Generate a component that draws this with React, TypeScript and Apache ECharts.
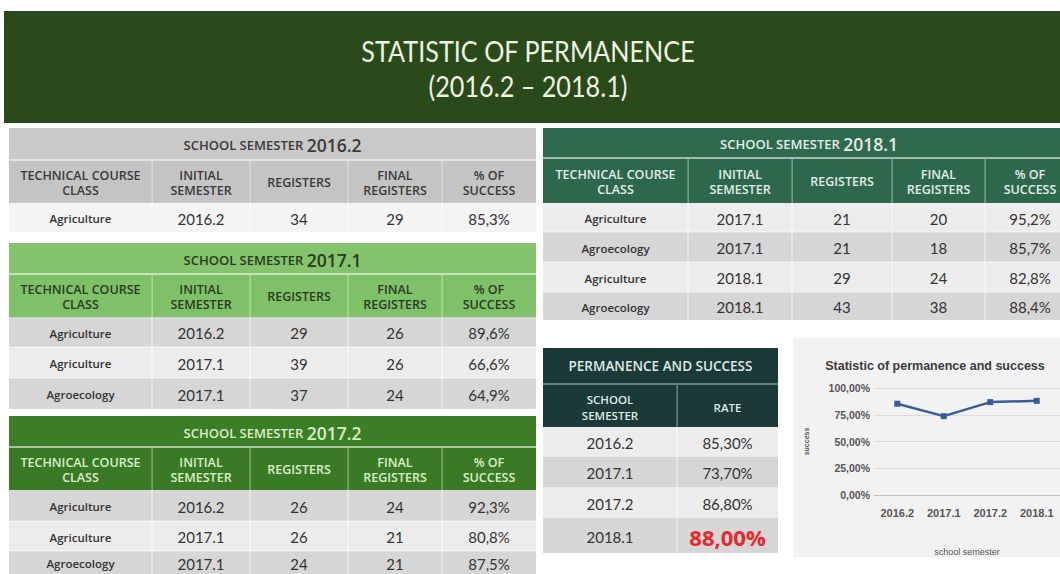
import React, { useEffect, useRef } from "react";
import * as echarts from "echarts";

// ---------- DATA ----------
const pageTitle = "STATISTIC OF PERMANENCE";
const pageSubtitle = "(2016.2 – 2018.1)";
const columnHeaders = ["TECHNICAL COURSE\nCLASS", "INITIAL\nSEMESTER", "REGISTERS", "FINAL\nREGISTERS", "% OF\nSUCCESS"];

const t20162Courses = ["Agriculture"];
const t20162Initial = ["2016.2"];
const t20162Registers = [34];
const t20162Final = [29];
const t20162Success = ["85,3%"];

const t20171Courses = ["Agriculture", "Agriculture", "Agroecology"];
const t20171Initial = ["2016.2", "2017.1", "2017.1"];
const t20171Registers = [29, 39, 37];
const t20171Final = [26, 26, 24];
const t20171Success = ["89,6%", "66,6%", "64,9%"];

const t20172Courses = ["Agriculture", "Agriculture", "Agroecology"];
const t20172Initial = ["2016.2", "2017.1", "2017.1"];
const t20172Registers = [26, 26, 24];
const t20172Final = [24, 21, 21];
const t20172Success = ["92,3%", "80,8%", "87,5%"];

const t20181Courses = ["Agriculture", "Agroecology", "Agriculture", "Agroecology"];
const t20181Initial = ["2017.1", "2017.1", "2018.1", "2018.1"];
const t20181Registers = [21, 21, 29, 43];
const t20181Final = [20, 18, 24, 38];
const t20181Success = ["95,2%", "85,7%", "82,8%", "88,4%"];

const summaryTitle = "PERMANENCE AND SUCCESS";
const summaryHeaders = ["SCHOOL\nSEMESTER", "RATE"];
const summarySemesters = ["2016.2", "2017.1", "2017.2", "2018.1"];
const summaryRates = [85.3, 73.7, 86.8, 88.0];

const chartTitle = "Statistic of permanence and success";
const chartYName = "success";
const chartXName = "school semester";
const chartYTicks = [0, 25, 50, 75, 100];

// ---------- HELPERS ----------
const FONT = 'Lato, "Open Sans", sans-serif';
const OPEN = '"Open Sans", Lato, sans-serif';
const ARIAL = '"Liberation Sans", Arial, sans-serif';

function zipRows(a: string[], b: string[], c: number[], d: number[], e: string[]) {
  return a.map((v, i) => [v, b[i], String(c[i]), String(d[i]), e[i]]);
}

type TableCfg = {
  cols: number[];
  titleTop: number;
  titleBottom: number;
  headerBottom: number;
  rowEdges: number[];
  rowFillBottom?: number;
  titleBg: string;
  headerBg: string;
  headText: string;
  rowFills: string[];
  semester: string;
  rows: string[][];
};

function tableGraphics(cfg: TableCfg): any[] {
  const els: any[] = [];
  const { cols } = cfg;
  const x0 = cols[0];
  const x1 = cols[cols.length - 1];
  const w = x1 - x0;
  els.push({ type: "rect", shape: { x: x0, y: cfg.titleTop, width: w, height: cfg.titleBottom - cfg.titleTop }, style: { fill: cfg.titleBg } });
  els.push({ type: "rect", shape: { x: x0, y: cfg.titleBottom, width: w, height: cfg.headerBottom - cfg.titleBottom }, style: { fill: cfg.headerBg } });
  els.push({ type: "rect", shape: { x: x0, y: cfg.titleBottom - 1, width: w, height: 2 }, style: { fill: "rgba(255,255,255,0.55)" } });
  // title
  els.push({
    type: "text",
    x: (x0 + x1) / 2,
    y: (cfg.titleTop + cfg.titleBottom) / 2 + 1,
    style: {
      text: "{a|SCHOOL SEMESTER }{b|" + cfg.semester + "}",
      align: "center",
      verticalAlign: "middle",
      rich: {
        a: { fill: cfg.headText, font: "600 13px " + OPEN },
        b: { fill: cfg.headText, font: "600 17.5px " + OPEN },
      },
    },
  });
  // headers
  for (let c = 0; c < cols.length - 1; c++) {
    if (c > 0) {
      els.push({ type: "rect", shape: { x: cols[c] - 0.5, y: cfg.titleBottom + 1, width: 1.2, height: cfg.headerBottom - cfg.titleBottom - 1 }, style: { fill: "rgba(255,255,255,0.45)" } });
    }
    els.push({
      type: "text",
      x: (cols[c] + cols[c + 1]) / 2,
      y: (cfg.titleBottom + cfg.headerBottom) / 2 + 1,
      style: { text: columnHeaders[c], align: "center", verticalAlign: "middle", fill: cfg.headText, font: "600 12.5px " + OPEN, lineHeight: 15 },
    });
  }
  // rows
  cfg.rows.forEach((row, r) => {
    const yA = cfg.rowEdges[r];
    const yB = cfg.rowEdges[r + 1];
    const isLast = r === cfg.rows.length - 1;
    const fillB = isLast && cfg.rowFillBottom ? cfg.rowFillBottom : yB;
    els.push({ type: "rect", shape: { x: x0, y: yA, width: w, height: fillB - yA }, style: { fill: cfg.rowFills[r % cfg.rowFills.length] } });
    for (let c = 0; c < row.length; c++) {
      if (c > 0) {
        els.push({ type: "rect", shape: { x: cols[c] - 0.5, y: yA, width: 1, height: fillB - yA }, style: { fill: "rgba(255,255,255,0.7)" } });
      }
      els.push({
        type: "text",
        x: (cols[c] + cols[c + 1]) / 2,
        y: (yA + yB) / 2 + 1,
        style: {
          text: row[c],
          align: "center",
          verticalAlign: "middle",
          fill: "#333",
          font: c === 0 ? "600 11.5px " + OPEN : "400 15px " + FONT,
        },
      });
    }
    if (r > 0) {
      els.push({ type: "rect", shape: { x: x0, y: yA - 0.5, width: w, height: 1 }, style: { fill: "rgba(255,255,255,0.6)" } });
    }
  });
  return els;
}

function fmtPct(v: number) {
  return v.toFixed(2).replace(".", ",") + "%";
}

export default function App() {
  const ref = useRef<HTMLDivElement>(null);
  useEffect(() => {
    if (!ref.current) return;
    const chart = echarts.init(ref.current, null, { renderer: "svg" });

    const leftCols = [9, 152, 250, 348, 442, 536];
    const rightCols = [543, 688, 792, 892, 985, 1075];

    const graphics: any[] = [];
    // banner
    graphics.push({ type: "rect", shape: { x: 4, y: 11, width: 1056, height: 112 }, style: { fill: "#2a4a1b" } });
    graphics.push({ type: "text", x: 528, y: 51, scaleX: 0.9, style: { text: pageTitle, align: "center", verticalAlign: "middle", fill: "#eef3e2", font: "400 28px " + FONT } });
    graphics.push({ type: "text", x: 528, y: 86, scaleX: 0.9, style: { text: pageSubtitle, align: "center", verticalAlign: "middle", fill: "#eef3e2", font: "400 28px " + FONT } });

    graphics.push(...tableGraphics({
      cols: leftCols, titleTop: 128, titleBottom: 160, headerBottom: 203, rowEdges: [203, 232],
      titleBg: "#c9c9c9", headerBg: "#c4c4c4", headText: "#3a3a3a", rowFills: ["#f4f4f4"], semester: "2016.2",
      rows: zipRows(t20162Courses, t20162Initial, t20162Registers, t20162Final, t20162Success),
    }));
    graphics.push(...tableGraphics({
      cols: leftCols, titleTop: 243, titleBottom: 274, headerBottom: 317, rowEdges: [317, 347, 378, 409],
      titleBg: "#83c46c", headerBg: "#7fc168", headText: "#2b3a24", rowFills: ["#d6d6d6", "#ececec"], semester: "2017.1",
      rows: zipRows(t20171Courses, t20171Initial, t20171Registers, t20171Final, t20171Success),
    }));
    graphics.push(...tableGraphics({
      cols: leftCols, titleTop: 416, titleBottom: 447, headerBottom: 490, rowEdges: [490, 521, 551, 574], rowFillBottom: 582,
      titleBg: "#3c7d27", headerBg: "#3a7a26", headText: "#d9f0c6", rowFills: ["#d6d6d6", "#ececec"], semester: "2017.2",
      rows: zipRows(t20172Courses, t20172Initial, t20172Registers, t20172Final, t20172Success),
    }));
    graphics.push(...tableGraphics({
      cols: rightCols, titleTop: 128, titleBottom: 158, headerBottom: 203, rowEdges: [203, 232, 262, 292, 320],
      titleBg: "#2f6a4e", headerBg: "#2e684c", headText: "#e2eee6", rowFills: ["#ececec", "#d6d6d6"], semester: "2018.1",
      rows: zipRows(t20181Courses, t20181Initial, t20181Registers, t20181Final, t20181Success),
    }));

    // summary table
    const sc = [543, 677, 778];
    graphics.push({ type: "rect", shape: { x: sc[0], y: 348, width: sc[2] - sc[0], height: 79 }, style: { fill: "#1b3a37" } });
    graphics.push({ type: "rect", shape: { x: sc[0], y: 383, width: sc[2] - sc[0], height: 2 }, style: { fill: "rgba(255,255,255,0.35)" } });
    graphics.push({ type: "rect", shape: { x: sc[1] - 0.5, y: 385, width: 1.2, height: 42 }, style: { fill: "rgba(255,255,255,0.45)" } });
    graphics.push({ type: "text", x: (sc[0] + sc[2]) / 2, y: 366, style: { text: summaryTitle, align: "center", verticalAlign: "middle", fill: "#dfe9e8", font: "600 13.5px " + OPEN } });
    summaryHeaders.forEach((h, i) => {
      graphics.push({ type: "text", x: (sc[i] + sc[i + 1]) / 2, y: 407, style: { text: h, align: "center", verticalAlign: "middle", fill: "#dfe9e8", font: "600 11.5px " + OPEN, lineHeight: 16 } });
    });
    const sEdges = [427, 457, 487, 518, 553];
    summarySemesters.forEach((s, r) => {
      const yA = sEdges[r];
      const yB = sEdges[r + 1];
      graphics.push({ type: "rect", shape: { x: sc[0], y: yA, width: sc[2] - sc[0], height: yB - yA }, style: { fill: r % 2 === 0 ? "#ececec" : "#d6d6d6" } });
      graphics.push({ type: "rect", shape: { x: sc[1] - 0.5, y: yA, width: 1, height: yB - yA }, style: { fill: "rgba(255,255,255,0.7)" } });
      graphics.push({ type: "text", x: (sc[0] + sc[1]) / 2, y: (yA + yB) / 2 + 1, style: { text: s, align: "center", verticalAlign: "middle", fill: "#333", font: "400 15px " + FONT } });
      const last = r === summarySemesters.length - 1;
      graphics.push({
        type: "text", x: (sc[1] + sc[2]) / 2, y: (yA + yB) / 2 + 1,
        style: { text: fmtPct(summaryRates[r]), align: "center", verticalAlign: "middle", fill: last ? "#e8262c" : "#333", font: last ? "700 22px " + OPEN : "400 15px " + FONT },
      });
    });

    // chart panel background
    graphics.push({ type: "rect", z: -10, shape: { x: 793, y: 338, width: 267, height: 219 }, style: { fill: "#f2f2f2" } });

    chart.setOption({
      animation: false,
      title: {
        text: chartTitle,
        left: 930,
        top: 354,
        textAlign: "center",
        textStyle: { fontFamily: ARIAL, fontSize: 12.5, fontWeight: "bold", color: "#3b3b3b" },
      },
      graphic: graphics.map((g) => ({ ...g, silent: true })),
      grid: { left: 874, right: 0, top: 388, bottom: 79, containLabel: false },
      xAxis: {
        type: "category",
        data: summarySemesters,
        boundaryGap: true,
        name: chartXName,
        nameLocation: "middle",
        nameGap: 52,
        nameTextStyle: { fontFamily: ARIAL, fontSize: 9, color: "#555" },
        axisLine: { lineStyle: { color: "#bfbfbf", width: 1 } },
        axisTick: { show: false },
        axisLabel: { margin: 12, fontFamily: ARIAL, fontSize: 11, fontWeight: "bold", color: "#555" },
      },
      yAxis: {
        type: "value",
        min: chartYTicks[0],
        max: chartYTicks[chartYTicks.length - 1],
        interval: chartYTicks[1] - chartYTicks[0],
        name: chartYName,
        nameLocation: "middle",
        nameRotate: 90,
        nameGap: 64,
        nameTextStyle: { fontFamily: ARIAL, fontSize: 7, fontWeight: "bold", color: "#555" },
        axisLine: { show: false },
        axisTick: { show: false },
        splitLine: { lineStyle: { color: "#dcdcdc", width: 1 } },
        axisLabel: { margin: 4, fontFamily: ARIAL, fontSize: 10.5, fontWeight: "bold", color: "#555", formatter: (v: number) => fmtPct(v) },
      },
      series: [
        {
          type: "line",
          data: summaryRates,
          symbol: "rect",
          symbolSize: 6,
          lineStyle: { color: "#3a5d98", width: 2.5 },
          itemStyle: { color: "#3a5d98" },
          z: 5,
        },
      ],
    });
    return () => chart.dispose();
  }, []);
  return <div ref={ref} style={{ position: "fixed", left: 0, top: 0, width: 1060, height: 574, background: "#fff" }} />;
}
